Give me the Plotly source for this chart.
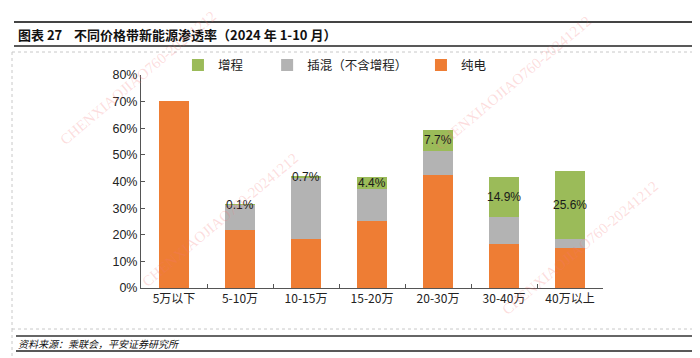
import plotly.graph_objects as go

categories = ["5万以下", "5-10万", "10-15万", "15-20万", "20-30万", "30-40万", "40万以上"]
bev = [70.3, 21.7, 18.4, 25.0, 42.6, 16.5, 15.0]        # 纯电
phev = [0.0, 9.6, 23.0, 12.3, 9.0, 10.3, 3.4]          # 插混（不含增程）
erev = [0.0, 0.1, 0.7, 4.4, 7.7, 14.9, 25.6]           # 增程
erev_labels = ["", "0.1%", "0.7%", "4.4%", "7.7%", "14.9%", "25.6%"]
y_ticks = [0, 10, 20, 30, 40, 50, 60, 70, 80]
y_tick_text = [f"{v}%" for v in y_ticks]

FONT = "Liberation Sans, Arial, Noto Sans CJK SC, sans-serif"
CJK = "Noto Sans CJK SC, Liberation Sans, sans-serif"

C_BEV = "#EE7D34"
C_PHEV = "#B3B3B3"
C_EREV = "#9BBB59"

fig = go.Figure()
fig.add_trace(go.Bar(x=categories, y=bev, name="纯电", marker=dict(color=C_BEV, line=dict(width=0)),
                     legend="legend3", showlegend=True))
fig.add_trace(go.Bar(x=categories, y=phev, name="插混（不含增程）", marker=dict(color=C_PHEV, line=dict(width=0)),
                     legend="legend2", showlegend=True))
fig.add_trace(go.Bar(x=categories, y=erev, name="增程", marker=dict(color=C_EREV, line=dict(width=0)),
                     legend="legend", showlegend=True))

# labels at the centre of the green segments
for c, b, p, e, t in zip(categories, bev, phev, erev, erev_labels):
    if t:
        fig.add_annotation(x=c, y=b + p + e / 2, text=t, showarrow=False, xref="x", yref="y",
                           font=dict(family=FONT, size=12, color="#1a1a1a"))

leg_common = dict(orientation="h", yanchor="middle", y=1.045, xanchor="left",
                  bgcolor="rgba(0,0,0,0)", font=dict(family=CJK, size=12.5, color="#222"),
                  itemwidth=30)
fig.update_layout(
    showlegend=True,
    barmode="stack",
    bargap=0.56,
    width=700, height=358,
    margin=dict(l=133, r=105, t=67, b=78),
    paper_bgcolor="white", plot_bgcolor="white",
    font=dict(family=FONT, size=12, color="#222"),
    legend=dict(x=0.080, **leg_common),
    legend2=dict(x=0.273, **leg_common),
    legend3=dict(x=0.606, **leg_common),
    xaxis=dict(showline=True, linecolor="#555", linewidth=1, ticks="inside", tickson="boundaries",
               ticklen=4, tickcolor="#555", tickfont=dict(family=CJK, size=12, color="#222"),
               showgrid=False),
    yaxis=dict(range=[0, 80], tickvals=y_ticks, ticktext=y_tick_text, showline=True, linecolor="#555",
               linewidth=1, ticks="inside", ticklen=4, tickcolor="#555", showgrid=False, zeroline=False,
               tickfont=dict(family=FONT, size=12.5, color="#222")),
)

W, H = 700, 358
PL, PR, PT, PB = 133, 105, 67, 78
PW, PH = W - PL - PR, H - PT - PB
fx = lambda x: (x - PL) / PW
fy = lambda y: (H - PB - y) / PH

def px_line(x0, y0, x1, y1, color, width, dash=None):
    d = dict(type="line", xref="paper", yref="paper", x0=fx(x0), x1=fx(x1), y0=fy(y0), y1=fy(y1),
             line=dict(color=color, width=width))
    if dash:
        d["line"]["dash"] = dash
    fig.add_shape(**d)

px_line(6, 14, 694, 14, "#444", 2)
px_line(6, 38, 694, 38, "#222", 1.5)
# dotted frame around chart
px_line(4, 44, 693, 44, "#c8c8c8", 1, "dot")
px_line(4, 44, 4, 321, "#c8c8c8", 1, "dot")
px_line(693, 44, 693, 321, "#c8c8c8", 1, "dot")
px_line(4, 321, 693, 321, "#c8c8c8", 1, "dot")
px_line(4, 353, 693, 353, "#c8c8c8", 1, "dot")
px_line(4, 321, 4, 353, "#c8c8c8", 1, "dot")
px_line(8, 328, 690, 328, "#666", 2)
px_line(8, 343, 690, 343, "#222", 1.5)

fig.add_annotation(xref="paper", yref="paper", x=fx(8), y=fy(26), xanchor="left",
                   yanchor="middle", showarrow=False,
                   text="<b>图表 27    不同价格带新能源渗透率（2024 年 1-10 月）</b>",
                   font=dict(family=CJK, size=13, color="#111"))
fig.add_annotation(xref="paper", yref="paper", x=fx(8), y=fy(335.5), xanchor="left",
                   yanchor="middle", showarrow=False,
                   text="<i>资料来源：乘联会，平安证券研究所</i>",
                   font=dict(family=CJK, size=10, color="#111"))

# faint watermarks
for (wx, wy) in [(212, 212), (572, 240), (130, 70), (505, 75)]:
    fig.add_annotation(xref="paper", yref="paper", x=fx(wx), y=fy(wy), xanchor="center", yanchor="middle",
                       showarrow=False, text="CHENXIAOJIAO760-20241212", textangle=-40,
                       font=dict(family="Liberation Serif, serif", size=15, color="rgba(245,120,120,0.25)"))

fig.write_html("out.html")
